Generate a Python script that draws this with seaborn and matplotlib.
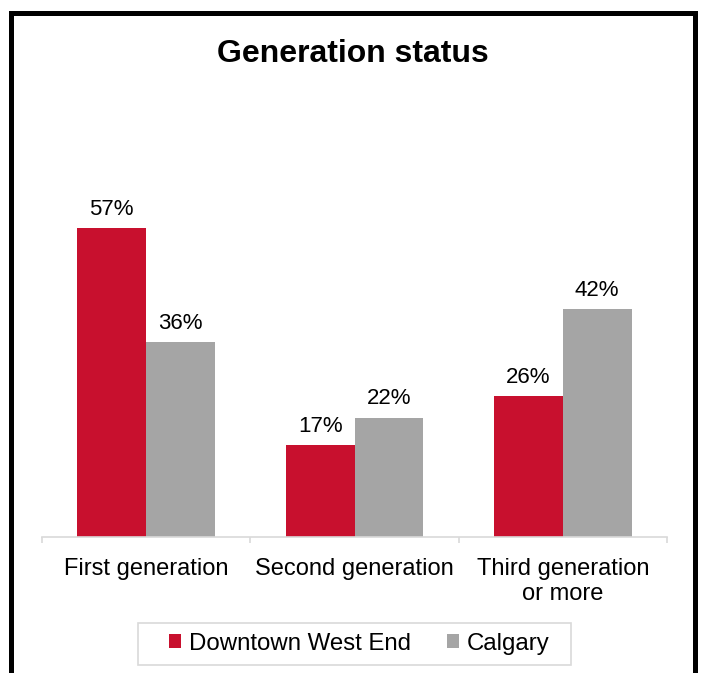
import matplotlib
matplotlib.use("Agg")
import matplotlib.pyplot as plt
import matplotlib.patches as mpatches
import seaborn as sns
import pandas as pd

categories = ["First generation", "Second generation", "Third generation\nor more"]
series = ["Downtown West End", "Calgary"]
downtown = [57, 17, 26]
calgary = [36, 22, 42]
colors = ["#C8102E", "#A5A5A5"]

rows = []
for c, d, g in zip(categories, downtown, calgary):
    rows.append({"cat": c, "series": series[0], "val": d})
    rows.append({"cat": c, "series": series[1], "val": g})
df = pd.DataFrame(rows)

sns.set_theme(style="white")
plt.rcParams["font.family"] = ["Liberation Sans", "DejaVu Sans"]
plt.rcParams["text.color"] = "black"

W, H = 701, 673
fig = plt.figure(figsize=(W / 100, H / 100), dpi=100)
ax = fig.add_axes([42 / W, 1 - 537 / H, (667 - 42) / W, (537 - 100) / H])

sns.barplot(data=df, x="cat", y="val", hue="series", order=categories,
            hue_order=series, palette=colors, width=0.66, saturation=1,
            edgecolor="none", linewidth=0, ax=ax, legend=False)

ax.set_ylim(0, (537 - 100) / 5.42)
ax.set_xlim(-0.5, 2.5)
ax.set_xlabel("")
ax.set_ylabel("")
ax.set_yticks([])
for s in ["top", "left", "right"]:
    ax.spines[s].set_visible(False)
ax.spines["bottom"].set_color("#D9D9D9")
ax.spines["bottom"].set_linewidth(1.2)

ax.set_xticks([-0.5, 0.5, 1.5, 2.5], minor=True)
ax.tick_params(axis="x", which="minor", bottom=True, length=4.5, width=1.2, color="#D9D9D9")
ax.tick_params(axis="x", which="major", bottom=True, length=0, pad=15, labelsize=17, labelcolor="black")

for cont in ax.containers:
    ax.bar_label(cont, labels=[f"{int(v)}%" for v in cont.datavalues],
                 padding=6, fontsize=16, color="black")

fig.text(353 / W, 1 - 54 / H, "Generation status", ha="center", va="center",
         fontsize=23, fontweight="bold", color="black")

handles = [mpatches.Patch(facecolor=c, edgecolor="none") for c in colors]
leg = fig.legend(handles, series, loc="center", bbox_to_anchor=(359 / W, 1 - 644 / H),
                 ncol=2, frameon=False, fontsize=17.3, handlelength=0.52, handleheight=0.52,
                 handletextpad=0.3, columnspacing=1.5, borderpad=0.3)
for t in leg.get_texts():
    t.set_color("black")

fig.add_artist(mpatches.Rectangle((138 / W, 1 - 665 / H), (571 - 138) / W, 42 / H,
                                  transform=fig.transFigure, fill=False,
                                  edgecolor="#D9D9D9", linewidth=1.2))
fig.add_artist(mpatches.Rectangle((10.5 / W, -0.05), (694.5 - 10.5) / W, 1.05 - 13.5 / H,
                                  transform=fig.transFigure, fill=False,
                                  edgecolor="black", linewidth=3.6, clip_on=False,
                                  joinstyle="miter"))

fig.savefig("out.png", dpi=100)
